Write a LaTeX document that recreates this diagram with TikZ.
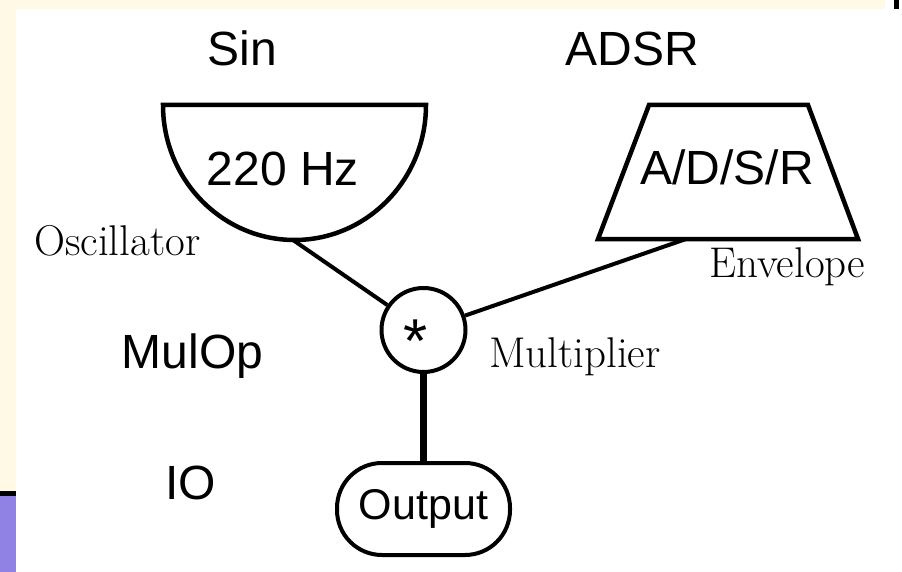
\documentclass[tikz,border=0pt]{standalone}
\usepackage{fontspec}
\newfontfamily\sansf{Liberation Sans}
\definecolor{cream}{RGB}{255,249,230}
\definecolor{lilac}{RGB}{144,130,228}
\tikzset{
  shapeline/.style={line width=4.5pt, line join=miter},
  conn/.style={line width=4pt},
  thickconn/.style={line width=7pt},
  sanslbl/.style={font=\sansf\fontsize{48}{56}\selectfont, inner sep=0pt, anchor=base},
  seriflbl/.style={font=\fontsize{43}{50}\selectfont, inner sep=0pt, anchor=base west},
}
\begin{document}
\begin{tikzpicture}[x=1pt,y=-1pt]
\useasboundingbox (0,0) rectangle (902,572);
% background
\fill[cream] (0,0) rectangle (885,9);
\fill[cream] (0,0) rectangle (16,491);
\fill[black] (0,491) rectangle (16,496);
\fill[lilac] (0,496) rectangle (16,572);
\fill[black] (894,0) rectangle (899,9);
% oscillator half ellipse
\draw[shapeline] (163,105) -- (426,105) arc[start angle=0, end angle=-180, x radius=131.5pt, y radius=135pt] -- cycle;
\coordinate (oscout) at (293,240);
% envelope trapezoid
\draw[shapeline] (649,105) -- (808,105) -- (858,239) -- (598,239) -- cycle;
\coordinate (envout) at (686,239);
% multiplier circle
\node[draw, circle, line width=4pt, minimum size=84pt, inner sep=0pt] (mul) at (423.5,330) {};
\node[font=\sansf\fontsize{62}{70}\selectfont, inner sep=0pt, anchor=base] (star) at (416,362) {*};
% output
\node[draw, line width=4pt, rounded corners=45pt, minimum width=173pt, minimum height=92pt, inner sep=0pt,
      font=\sansf\fontsize{43}{50}\selectfont] (out) at (423.5,509) {Output};
% connectors
\draw[conn] (oscout) -- (mul);
\draw[conn] (envout) -- (mul);
\draw[thickconn] (mul) -- (out);
% labels
\node[sanslbl] (sin) at (242.5,66) {Sin};
\node[sanslbl] (adsr) at (632,66) {ADSR};
\node[sanslbl] (hz) at (283,186) {220 Hz};
\node[sanslbl] (adsrv) at (727,185) {A/D/S/R};
\node[sanslbl] (mulop) at (192.5,368) {MulOp};
\node[sanslbl] (io) at (190.5,499) {IO};
\node[seriflbl] (osc) at (34,255) {Oscillator};
\node[seriflbl] (env) at (709,277) {Envelope};
\node[seriflbl] (mult) at (489,367) {Multiplier};
\end{tikzpicture}
\end{document}
